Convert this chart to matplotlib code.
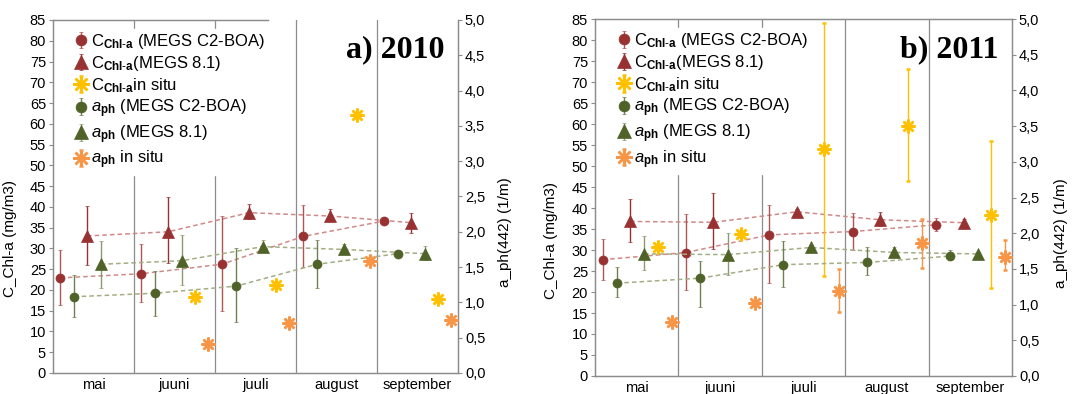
import numpy as np
import matplotlib
matplotlib.use("Agg")
import matplotlib.pyplot as plt

plt.rcParams['font.family'] = ['Liberation Sans', 'DejaVu Sans']
plt.rcParams['mathtext.fontset'] = 'custom'
plt.rcParams['mathtext.rm'] = 'Liberation Sans'
plt.rcParams['mathtext.it'] = 'Liberation Sans:italic'
plt.rcParams['mathtext.bf'] = 'Liberation Sans:bold'

nan = np.nan
months = ['mai', 'juuni', 'juuli', 'august', 'september']

# 2010 - chlorophyll (mg/m3): value, lower, upper
c_boa_10 = [22.9, 23.9, 26.2, 32.9, 36.6]
c_boa_10_lo = [16.4, 17.1, 15.0, 25.6, 35.8]
c_boa_10_hi = [29.6, 31.0, 37.8, 40.4, 37.6]
c_m81_10 = [33.0, 34.0, 38.6, 37.8, 36.2]
c_m81_10_lo = [26.0, 26.6, 37.0, 36.6, 33.8]
c_m81_10_hi = [40.2, 42.4, 40.6, 39.6, 38.6]
c_situ_10 = [nan, 18.4, 21.1, 62.2, 17.8]
c_situ_10_lo = [nan, nan, nan, nan, nan]
c_situ_10_hi = [nan, nan, nan, nan, nan]
# 2010 - a_ph(442) (1/m)
a_boa_10 = [1.08, 1.13, 1.23, 1.54, 1.69]
a_boa_10_lo = [0.79, 0.81, 0.72, 1.21, 1.66]
a_boa_10_hi = [1.39, 1.45, 1.77, 1.88, 1.74]
a_m81_10 = [1.54, 1.59, 1.79, 1.75, 1.69]
a_m81_10_lo = [1.21, 1.25, 1.72, 1.72, 1.60]
a_m81_10_hi = [1.87, 1.95, 1.88, 1.83, 1.80]
a_situ_10 = [nan, 0.41, 0.71, 1.59, 0.75]
a_situ_10_lo = [nan, nan, nan, nan, nan]
a_situ_10_hi = [nan, nan, nan, nan, nan]

# 2011
c_boa_11 = [27.7, 29.4, 33.6, 34.4, 36.0]
c_boa_11_lo = [22.9, 20.4, 22.1, 30.0, 34.6]
c_boa_11_hi = [32.6, 38.6, 40.6, 38.7, 37.6]
c_m81_11 = [36.8, 36.6, 39.1, 37.2, 36.5]
c_m81_11_lo = [31.8, 30.3, 38.4, 35.6, 35.6]
c_m81_11_hi = [42.1, 43.6, 39.8, 39.0, 37.4]
c_situ_11 = [30.8, 33.8, 54.0, 59.5, 38.4]
c_situ_11_lo = [nan, nan, 23.9, 46.4, 21.0]
c_situ_11_hi = [nan, nan, 84.0, 73.1, 56.0]
a_boa_11 = [1.30, 1.37, 1.56, 1.59, 1.68]
a_boa_11_lo = [1.10, 0.96, 1.25, 1.41, 1.62]
a_boa_11_hi = [1.52, 1.61, 1.89, 1.80, 1.76]
a_m81_11 = [1.71, 1.70, 1.80, 1.73, 1.71]
a_m81_11_lo = [1.49, 1.41, 1.76, 1.69, 1.69]
a_m81_11_hi = [1.96, 2.00, 1.84, 1.80, 1.73]
a_situ_11 = [0.76, 1.02, 1.19, 1.86, 1.67]
a_situ_11_lo = [nan, nan, 0.90, 1.51, 1.48]
a_situ_11_hi = [nan, nan, 1.50, 2.20, 1.91]

RED = '#983232'
GREEN = '#4f6228'
YELLOW = '#ffc000'
ORANGE = '#f79646'
GRID = '#8c8c8c'
STAR = (8, 2, 0)

labels = [r'C$_{\mathbf{Chl\text{-}a}}$ (MEGS C2-BOA)',
          r'C$_{\mathbf{Chl\text{-}a}}$(MEGS 8.1)',
          r'C$_{\mathbf{Chl\text{-}a}}$in situ',
          r'$a_{\mathbf{ph}}$ (MEGS C2-BOA)',
          r'$a_{\mathbf{ph}}$ (MEGS 8.1)',
          r'$a_{\mathbf{ph}}$ in situ']


def yerr(v, lo, hi):
    v, lo, hi = np.array(v), np.array(lo), np.array(hi)
    return np.nan_to_num(np.vstack([v - lo, hi - v]))


def series(ax, off, v, lo, hi, marker, color, ecolor, ms, label, line=None):
    x = np.arange(len(months)) + off
    if line:
        ax.plot(x, v, ls=(0, (3, 2)), color=line, lw=1.1, zorder=2)
    h = ax.errorbar(x, v, yerr=yerr(v, lo, hi), fmt='', marker=marker, linestyle='none',
                    color=color, ecolor=ecolor, elinewidth=1.0, capsize=1.5, capthick=1.0,
                    ms=ms, mew=1.8 if marker == STAR else 0.5, label=label, zorder=3)
    return h


def panel(ax, title, d, top_bound):
    ax2 = ax.twinx()
    ax.set_xlim(0, 5)
    ax.set_ylim(0, 85)
    ax2.set_ylim(0, 5)
    ax.set_yticks(np.arange(0, 86, 5))
    ax2.set_yticks(np.arange(0, 5.01, 0.5))
    ax2.set_yticklabels([('%.1f' % t).replace('.', ',') for t in np.arange(0, 5.01, 0.5)])
    ax.set_xticks(np.arange(5) + 0.5)
    ax.set_xticklabels(months)
    ax.tick_params(axis='x', length=0, pad=3.5, labelsize=10.5)
    ax.tick_params(axis='y', length=3, color=GRID, labelsize=10.5, pad=2)
    ax2.tick_params(axis='y', length=3, color=GRID, labelsize=10.5, pad=2)
    for a in (ax, ax2):
        for s in a.spines.values():
            s.set_color(GRID)
            s.set_linewidth(0.9)
    ax.spines['top'].set_bounds(0, top_bound)
    ax2.spines['top'].set_bounds(0, top_bound)
    for m in range(1, 5):
        ax.axvline(m, color=GRID, lw=0.9, zorder=1)

    hs = []
    hs.append(series(ax, 0.09, d[0], d[1], d[2], 'o', RED, '#b05555', 6.5, labels[0], '#d08a88'))
    hs.append(series(ax, 0.42, d[3], d[4], d[5], '^', RED, RED, 8, labels[1], '#d08a88'))
    hs.append(series(ax, 0.75, d[6], d[7], d[8], STAR, YELLOW, YELLOW, 10, labels[2]))
    hs.append(series(ax2, 0.26, d[9], d[10], d[11], 'o', GREEN, '#6f8050', 6.5, labels[3], '#a3ae84'))
    hs.append(series(ax2, 0.59, d[12], d[13], d[14], '^', GREEN, '#8c9a72', 8, labels[4], '#a3ae84'))
    hs.append(series(ax2, 0.92, d[15], d[16], d[17], STAR, ORANGE, ORANGE, 10, labels[5]))

    ax.set_ylabel('C_Chl-a (mg/m3)', fontsize=11)
    ax.yaxis.set_label_coords(-0.088, 0.38)
    ax2.set_ylabel('a_ph(442) (1/m)', fontsize=11)
    ax2.yaxis.set_label_coords(1.10, 0.40)

    leg = ax2.legend(hs, labels, loc='upper left', bbox_to_anchor=(0.035, 0.985),
                     fontsize=12, frameon=True, framealpha=1, edgecolor='white',
                     facecolor='white', borderpad=0.2, handlelength=0.9,
                     handletextpad=0.15, labelspacing=0.18, borderaxespad=0.2,
                     markerscale=1.2)
    leg.set_zorder(5)
    ax2.text(0.968, 0.915, title, transform=ax.transAxes, ha='right', va='center',
             family='Liberation Serif', fontweight='bold', fontsize=23, zorder=6)


fig = plt.figure(figsize=(10.75, 3.94), dpi=100)
ax_a = fig.add_axes([0.0493, 0.0533, 0.3767, 0.896])
ax_b = fig.add_axes([0.5535, 0.0457, 0.3879, 0.906])

panel(ax_a, 'a) 2010',
      [c_boa_10, c_boa_10_lo, c_boa_10_hi, c_m81_10, c_m81_10_lo, c_m81_10_hi,
       c_situ_10, c_situ_10_lo, c_situ_10_hi, a_boa_10, a_boa_10_lo, a_boa_10_hi,
       a_m81_10, a_m81_10_lo, a_m81_10_hi, a_situ_10, a_situ_10_lo, a_situ_10_hi], 2.65)
panel(ax_b, 'b) 2011',
      [c_boa_11, c_boa_11_lo, c_boa_11_hi, c_m81_11, c_m81_11_lo, c_m81_11_hi,
       c_situ_11, c_situ_11_lo, c_situ_11_hi, a_boa_11, a_boa_11_lo, a_boa_11_hi,
       a_m81_11, a_m81_11_lo, a_m81_11_hi, a_situ_11, a_situ_11_lo, a_situ_11_hi], 5)

fig.savefig('out.png', dpi=100)
